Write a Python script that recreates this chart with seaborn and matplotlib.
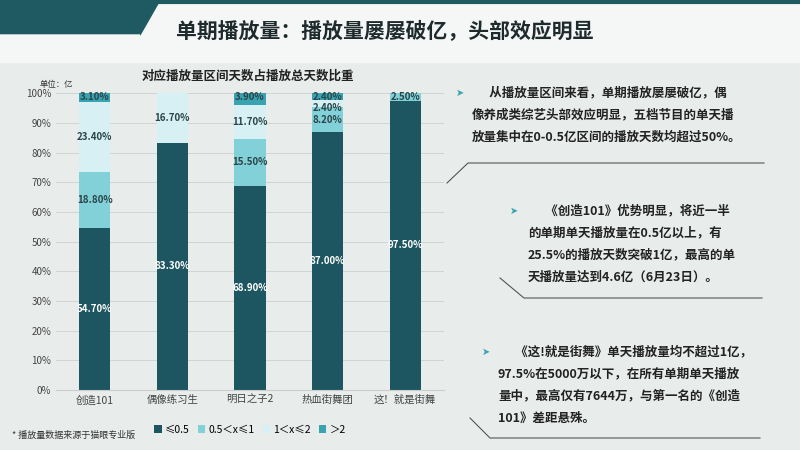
import matplotlib
matplotlib.use("Agg")
import matplotlib.pyplot as plt
import seaborn as sns
import pandas as pd
import numpy as np
from matplotlib.patches import Polygon, Rectangle

plt.rcParams["font.family"] = "Noto Sans CJK SC"

categories = ["创造101", "偶像练习生", "明日之子2", "热血街舞团", "这！就是街舞"]
s_le05 = [54.7, 83.3, 68.9, 87.0, 97.5]
s_05_1 = [18.8, 0.0, 15.5, 8.2, 2.5]
s_1_2 = [23.4, 16.7, 11.7, 2.4, 0.0]
s_gt2 = [3.1, 0.0, 3.9, 2.4, 0.0]
series_names = ["≤0.5", "0.5＜x≤1", "1＜x≤2", "＞2"]
colors = ["#1d5660", "#82d0d8", "#d6f0f3", "#3aa3b2"]
yticks = [0, 10, 20, 30, 40, 50, 60, 70, 80, 90, 100]

fig = plt.figure(figsize=(8, 4.5), dpi=100)
fig.patch.set_facecolor("#e8ecea")
bg = fig.add_axes([0, 0, 1, 1]); bg.set_xlim(0, 800); bg.set_ylim(450, 0); bg.axis("off")
bg.add_patch(Rectangle((0, 0), 800, 62, color="#f4f7f6"))
bg.add_patch(Polygon([(0, 0), (160, 0), (140, 35), (0, 35)], color="#1f5a62"))
bg.add_patch(Polygon([(0, 35), (140, 35), (120, 62), (0, 62)], color="#f4f7f6"))
bg.plot([0, 800], [2, 2], color="#1f5a62", lw=3)
bg.text(176, 32, "单期播放量：播放量屡屡破亿，头部效应明显", fontsize=15, fontweight="bold", color="#1e2a2c", va="center")
bg.text(248, 76, "对应播放量区间天数占播放总天数比重", fontsize=9, fontweight="bold", color="#222", ha="center", va="center")
bg.text(40, 84, "单位：亿", fontsize=6, color="#333", va="center")
bg.text(12, 435, "* 播放量数据来源于猫眼专业版", fontsize=6.5, color="#333", va="center")

texts = [
    (456, 93, ["      从播放量区间来看，单期播放屡屡破亿，偶", "像养成类综艺头部效应明显，五档节目的单天播", "放量集中在0-0.5亿区间的播放天数均超过50%。"], 472),
    (510, 211, ["      《创造101》优势明显，将近一半", "的单期单天播放量在0.5亿以上，有", "25.5%的播放天数突破1亿，最高的单", "天播放量达到4.6亿（6月23日）。"], 528),
    (482, 352, ["      《这!就是街舞》单天播放量均不超过1亿，", "97.5%在5000万以下，在所有单期单天播放", "量中，最高仅有7644万，与第一名的《创造", "101》差距悬殊。"], 498),
]
for bx, by, lines, lx in texts:
    bg.text(bx, by, "➤", fontsize=7, color="#3aa3b2", va="center", fontfamily="DejaVu Sans")
    for i, l in enumerate(lines):
        bg.text(lx, by + i * 22, l, fontsize=9, color="#222", va="center", fontweight="bold")
bg.plot([447, 468, 764], [183, 163, 163], color="#555", lw=0.8)
bg.plot([500, 524, 762], [278, 298, 298], color="#555", lw=0.8)
bg.plot([470, 490, 760], [418, 438, 438], color="#555", lw=0.8)

ax = fig.add_axes([0.07, 0.133, 0.485, 0.66])
ax.set_facecolor("none")
layers = [s_le05, s_05_1, s_1_2, s_gt2]
cum = np.cumsum(np.array(layers), axis=0)
for k in range(3, -1, -1):
    df = pd.DataFrame({"cat": categories, "val": cum[k]})
    sns.barplot(data=df, x="cat", y="val", color=colors[k], width=0.4, ax=ax, saturation=1, zorder=2, label=series_names[k])
for k in range(4):
    for i in range(5):
        v = layers[k][i]
        if v <= 0:
            continue
        y = cum[k][i] - v / 2
        if k == 3:
            y = min(cum[k][i] - 1.3, 99)
        if k == 2 and v < 3:
            y -= 1.5
        ax.text(i, y, f"{v:.2f}%", ha="center", va="center", fontsize=7, fontweight="bold",
                color="white" if k == 0 else "#2a4548", zorder=3)
ax.set_ylim(0, 100)
ax.set_yticks(yticks)
ax.set_yticklabels([f"{t}%" for t in yticks], fontsize=7, color="#444")
ax.tick_params(axis="x", labelsize=7.5, colors="#444", length=0)
ax.tick_params(axis="y", length=0)
ax.set_xlabel(""); ax.set_ylabel("")
ax.grid(axis="y", color="#d0d4d3", lw=0.7, zorder=0)
for s in ["top", "right", "left"]:
    ax.spines[s].set_visible(False)
ax.spines["bottom"].set_color("#ccc")
h, l = ax.get_legend_handles_labels()
order = [l.index(n) for n in series_names]
ax.legend([h[j] for j in order], series_names, loc="upper center", bbox_to_anchor=(0.5, -0.085),
          ncol=4, frameon=False, fontsize=7.5, handlelength=0.7, handleheight=0.7, columnspacing=0.8, handletextpad=0.3)
fig.savefig("out.png", dpi=100, facecolor=fig.get_facecolor())
